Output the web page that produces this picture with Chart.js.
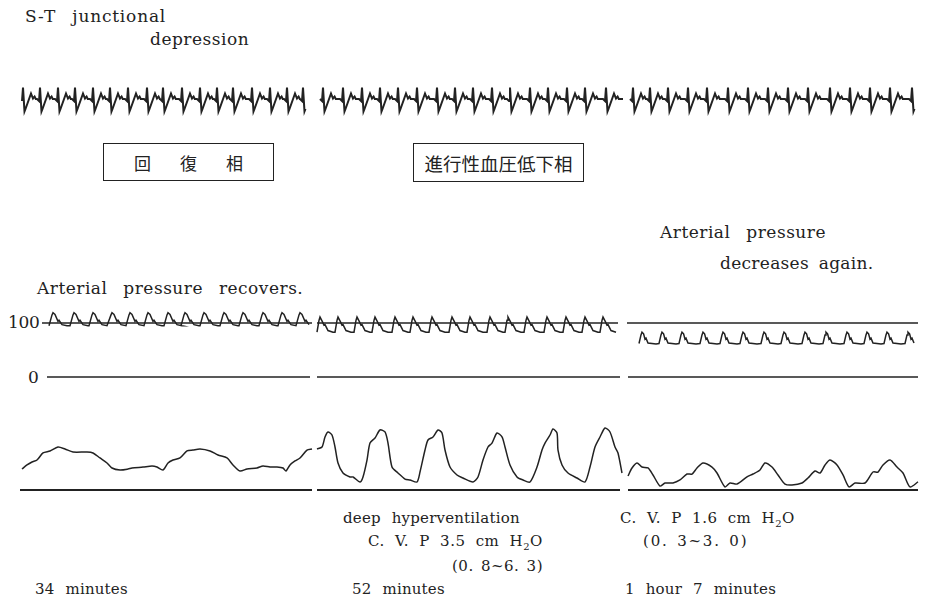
<!DOCTYPE html>
<html>
<head>
<meta charset="utf-8">
<script src="https://cdn.jsdelivr.net/npm/chart.js@4/dist/chart.umd.min.js"></script>
<style>
  html, body { margin: 0; padding: 0; background: #fff; }
  #page { position: relative; width: 926px; height: 613px; overflow: hidden; }
  canvas { position: absolute; }
  .lbl {
    position: absolute; white-space: pre; line-height: 1; color: #222;
    font-family: "DejaVu Serif", "Liberation Serif", serif; font-size: 15px;
    word-spacing: 6px; letter-spacing: 0.2px;
  }
  .big { font-size: 17px; letter-spacing: 0.5px; word-spacing: 10px; }
  .cvp { word-spacing: 5px; letter-spacing: 0.5px; }
  .box {
    position: absolute; border: 1.5px solid #222; box-sizing: border-box;
    display: flex; align-items: center; justify-content: center;
    font-family: "Noto Sans CJK JP", sans-serif; font-size: 18px; color: #222;
  }
</style>
</head>
<body>
<div id="page">
  <div class="lbl big" style="left:25px;top:8px;letter-spacing:0.8px">S-T junctional</div>
  <div class="lbl big" style="left:150px;top:31px">depression</div>

  <canvas id="ecg" width="900" height="36" style="left:20px;top:80px"></canvas>

  <div class="box" style="left:103px;top:143px;width:171px;height:38px;font-size:17px;letter-spacing:29px;padding-left:29px">回復相</div>
  <div class="box" style="left:413px;top:143px;width:171px;height:39px;font-size:18.5px">進行性血圧低下相</div>

  <div class="lbl big" style="left:660px;top:224px">Arterial pressure</div>
  <div class="lbl big" style="left:720px;top:255px;word-spacing:4px;letter-spacing:0.3px">decreases again.</div>
  <div class="lbl big" style="left:37px;top:280px">Arterial pressure recovers.</div>

  <div class="lbl" style="left:8px;top:314px;font-size:17px;letter-spacing:-0.3px">100</div>
  <div class="lbl" style="left:28px;top:369px;font-size:17px">0</div>
  <canvas id="ap" width="900" height="100" style="left:20px;top:290px"></canvas>

  <canvas id="cvp" width="900" height="80" style="left:20px;top:420px"></canvas>

  <div class="lbl" style="left:343px;top:511px">deep hyperventilation</div>
  <div class="lbl cvp" style="left:368px;top:534px">C. V. P 3.5 cm H<sub style="font-size:10px">2</sub>O</div>
  <div class="lbl cvp" style="left:452px;top:559px;word-spacing:2px">(0. 8~6. 3)</div>
  <div class="lbl cvp" style="left:620px;top:511px">C. V. P 1.6 cm H<sub style="font-size:10px">2</sub>O</div>
  <div class="lbl cvp" style="left:643px;top:534px;letter-spacing:1.8px;word-spacing:2px">(0. 3~3. 0)</div>

  <div class="lbl" style="left:35px;top:582px">34 minutes</div>
  <div class="lbl" style="left:352px;top:582px">52 minutes</div>
  <div class="lbl" style="left:625px;top:582px">1 hour 7 minutes</div>
</div>

<script>
// strip time in seconds (paper speed 20 px/s), recording split in three panels

// ECG (mV): R spike times per segment and one beat shape [dt from R, mV]
// the slow "/" after each S wave is the junctional S-T depression
const ecgSegments = [[0.05, 14.3], [14.45, 30.2], [30.5, 44.9]];
const ecgSpikes1 = [0.15, 1.0, 1.9, 2.75, 3.65, 4.5, 5.4, 6.35, 7.15, 8.1, 9.0, 9.85, 10.65, 11.6, 12.5, 13.35, 14.15];
const ecgSpikes2 = [15.15, 16.15, 17.1, 18.0, 18.9, 19.85, 20.85, 21.75, 22.65, 23.6, 24.5, 25.5, 26.4, 27.35, 28.25, 29.3, 30.3];
const ecgSpikes3 = [30.65, 31.5, 32.4, 33.4, 34.35, 35.4, 36.4, 37.4, 38.4, 39.4, 40.5, 41.5, 42.5, 43.5, 44.6];
const ecgBeatShape = [[-0.15, 0], [-0.05, -0.2], [0, 1.15], [0.075, -1.25], [0.125, -1.0], [0.4, 0.55], [0.5, 0.05], [0.58, 0.25], [0.64, 0]];

// arterial pressure (mmHg): pulse peak times and pulse shapes [dt, mmHg]
const apPeaks1 = [1.65, 2.7, 3.65, 4.6, 5.5, 6.4, 7.4, 8.25, 9.2, 10.2, 11.15, 12.15, 13.1, 14.0];
const apPeaks2 = [15.0, 15.9, 16.85, 17.75, 18.75, 19.65, 20.6, 21.6, 22.5, 23.5, 24.4, 25.35, 26.35, 27.3, 28.25, 29.15];
const apPeaks3 = [31.1, 32.1, 33.1, 34.15, 35.15, 36.15, 37.2, 38.2, 39.25, 40.3, 41.35, 42.35, 43.35, 44.4];
const apPulse1 = [[-0.2, 95], [-0.05, 115], [0, 119], [0.1, 116], [0.25, 103], [0.3, 105], [0.45, 97], [0.7, 95]];
const apPulse2 = [[-0.15, 83], [-0.05, 105], [0, 111], [0.1, 104], [0.2, 96], [0.25, 97], [0.4, 86], [0.65, 83]];
const apPulse3 = [[-0.15, 62], [-0.05, 78], [0, 83], [0.08, 80], [0.15, 70], [0.2, 72], [0.3, 63], [0.7, 61]];
const apTraceRanges = [[1.1, 14.6], [14.85, 29.9], [30.5, 44.9]];
const apRefLines = [[1.1, 14.6], [14.85, 29.9], [30.35, 44.9]];
const apZeroLines = [[1.35, 14.5], [14.85, 30.0], [30.4, 44.9]];

// central venous pressure (cmH2O) [t, value]
const cvp1 = [[0.1, 2.22], [0.35, 2.65], [0.6, 2.96], [0.85, 3.17], [1.15, 3.92], [1.5, 4.13], [1.9, 4.55], [2.25, 4.34], [2.65, 4.02], [3.35, 4.02], [3.65, 3.92], [4.0, 3.39], [4.35, 2.86], [4.6, 2.33], [5.0, 2.12], [5.4, 2.22], [5.6, 2.33], [6.15, 2.43], [6.6, 2.54], [6.85, 2.43], [7.15, 2.12], [7.4, 2.86], [7.65, 3.17], [8.0, 3.39], [8.35, 4.13], [8.65, 4.23], [9.0, 4.34], [9.5, 4.13], [9.9, 3.7], [10.35, 3.39], [10.65, 2.65], [11.0, 2.01], [11.35, 2.22], [11.85, 2.33], [12.15, 2.54], [12.5, 2.43], [12.85, 2.43], [13.15, 2.33], [13.3, 2.01], [13.5, 2.65], [13.75, 3.07], [14.0, 3.39], [14.35, 4.23], [14.6, 4.34]];
const cvp2 = [[14.85, 4.34], [15.1, 4.55], [15.25, 5.61], [15.4, 6.14], [15.6, 5.82], [15.75, 4.55], [15.9, 2.86], [16.15, 1.8], [16.5, 1.38], [16.65, 1.38], [17.0, 0.85], [17.15, 1.38], [17.35, 3.17], [17.5, 4.97], [17.75, 5.5], [18.0, 6.35], [18.25, 6.14], [18.4, 4.97], [18.6, 2.43], [18.9, 1.8], [19.25, 1.16], [19.5, 1.06], [19.85, 0.85], [20.0, 1.9], [20.25, 4.23], [20.4, 5.29], [20.65, 5.61], [20.9, 6.35], [21.1, 6.03], [21.25, 4.23], [21.5, 2.43], [21.85, 1.59], [22.15, 1.27], [22.65, 0.85], [22.9, 1.38], [23.15, 3.17], [23.4, 4.55], [23.6, 4.97], [23.85, 6.03], [24.1, 5.61], [24.25, 4.55], [24.5, 2.65], [24.85, 1.38], [25.15, 1.06], [25.5, 0.85], [25.85, 2.43], [26.1, 4.23], [26.25, 4.97], [26.5, 5.82], [26.65, 6.46], [26.85, 6.03], [26.9, 4.23], [27.1, 2.65], [27.4, 1.8], [27.85, 1.27], [28.25, 0.85], [28.5, 2.43], [28.75, 4.55], [29.0, 5.61], [29.25, 6.56], [29.5, 6.14], [29.75, 4.55], [29.9, 3.92], [30.1, 1.8]];
const cvp3 = [[30.4, 1.48], [30.6, 2.33], [30.85, 2.86], [31.1, 2.43], [31.4, 2.33], [31.65, 1.59], [32.0, 0.42], [32.25, 0.74], [32.65, 0.74], [33.0, 1.06], [33.35, 1.69], [33.6, 1.69], [33.85, 2.33], [34.15, 2.86], [34.6, 2.43], [34.85, 1.8], [35.25, 0.32], [35.5, 0.74], [35.85, 0.63], [36.35, 1.38], [36.65, 1.69], [37.0, 2.12], [37.25, 2.86], [37.6, 2.43], [37.9, 1.59], [38.25, 0.63], [38.6, 0.53], [39.1, 0.74], [39.4, 1.27], [39.75, 2.01], [40.0, 1.8], [40.25, 2.65], [40.5, 3.17], [40.85, 2.65], [41.15, 1.59], [41.45, 0.32], [41.75, 0.74], [42.25, 0.74], [42.65, 1.9], [42.9, 1.9], [43.15, 2.65], [43.5, 3.17], [43.85, 2.43], [44.15, 1.8], [44.5, 0.32], [44.9, 0.85]];
const cvpZeroLines = [[0.0, 14.6], [14.85, 30.0], [30.4, 44.9]];

const INK = "#222";
const STRIP_SECONDS = 45;

function toPoints(pairs) {
    return pairs.map(([x, y]) => ({ x, y }));
}

// place a beat shape at every beat time, keep what falls inside the segment
function beatTrace(times, shape, range) {
    const pts = [];
    times.forEach((t0) => {
        shape.forEach(([dt, v]) => {
            const t = t0 + dt;
            if (t >= range[0] && t <= range[1]) pts.push({ x: t, y: v });
        });
    });
    return pts;
}

function flatLine([a, b], value) {
    return [{ x: a, y: value }, { x: b, y: value }];
}

function trace(data, width = 1.6, extra = {}) {
    return Object.assign({ data, borderColor: INK, borderWidth: width, pointRadius: 0, tension: 0, fill: false }, extra);
}

// zeroPx: pixel row of value 0 from canvas top, pxPerUnit: vertical gain
function stripChart(id, datasets, zeroPx, pxPerUnit) {
    const canvas = document.getElementById(id);
    const h = canvas.height;
    new Chart(canvas.getContext("2d"), {
        type: "line",
        data: { datasets },
        options: {
            responsive: false,
            animation: false,
            events: [],
            layout: { padding: 0 },
            plugins: { legend: { display: false }, tooltip: { enabled: false } },
            scales: {
                x: { type: "linear", min: 0, max: STRIP_SECONDS, display: false },
                y: { type: "linear", min: -(h - zeroPx) / pxPerUnit, max: zeroPx / pxPerUnit, display: false },
            },
        },
    });
}

stripChart("ecg", [
    trace(beatTrace(ecgSpikes1, ecgBeatShape, ecgSegments[0]), 2),
    trace(beatTrace(ecgSpikes2, ecgBeatShape, ecgSegments[1]), 2),
    trace(beatTrace(ecgSpikes3, ecgBeatShape, ecgSegments[2]), 2),
], 19, 10);

stripChart("ap", [
    ...apRefLines.map((r) => trace(flatLine(r, 100), 1.4)),
    ...apZeroLines.map((r) => trace(flatLine(r, 0), 1.6)),
    trace(beatTrace(apPeaks1, apPulse1, apTraceRanges[0]), 1.5),
    trace(beatTrace(apPeaks2, apPulse2, apTraceRanges[1]), 1.5),
    trace(beatTrace(apPeaks3, apPulse3, apTraceRanges[2]), 1.5),
], 87, 0.54);

stripChart("cvp", [
    ...cvpZeroLines.map((r) => trace(flatLine(r, 0), 1.8)),
    trace(toPoints(cvp1), 1.5, { tension: 0.25 }),
    trace(toPoints(cvp2), 1.5, { tension: 0.25 }),
    trace(toPoints(cvp3), 1.5, { tension: 0.25 }),
], 70, 9.45);
</script>
</body>
</html>
